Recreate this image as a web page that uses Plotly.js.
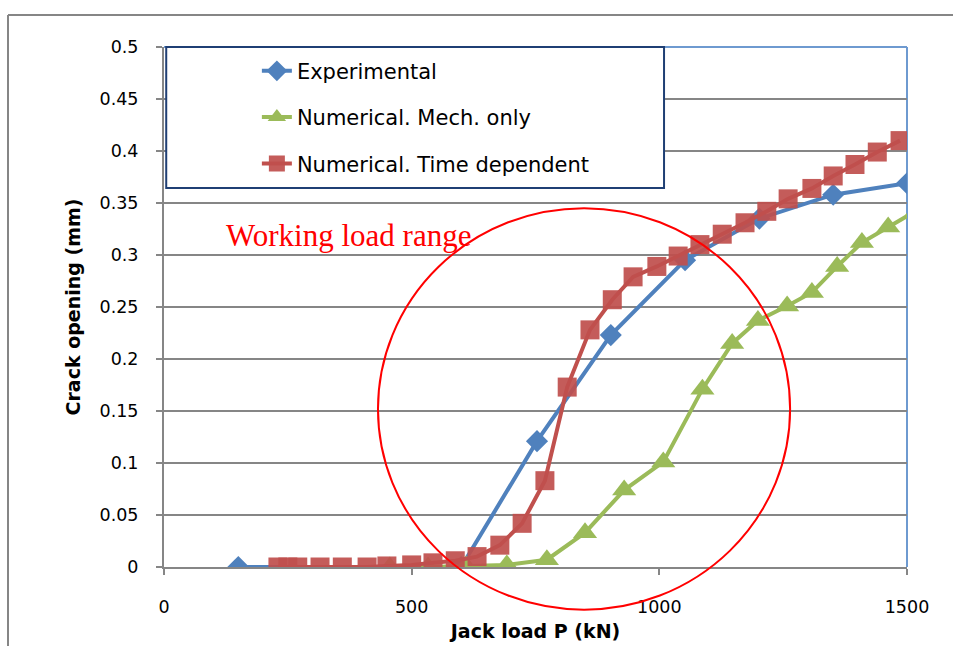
<!DOCTYPE html>
<html>
<head>
<meta charset="utf-8">
<script src="https://cdn.plot.ly/plotly-3.0.1.min.js"></script>
<style>
  html, body { margin: 0; padding: 0; background: #ffffff; }
  #chart { width: 953px; height: 646px; }
</style>
</head>
<body>
<div id="chart"></div>
<script>
// Crack opening versus jack load
const seriesNames = ['Experimental', 'Numerical. Mech. only', 'Numerical. Time dependent'];

const expLoad = [150, 600, 753, 902, 1052, 1202, 1351, 1500];
const expCrack = [0, 0, 0.121, 0.223, 0.295, 0.335, 0.358, 0.369];

const mechLoad = [456, 533, 610, 692, 773, 850, 929, 1008, 1087, 1147, 1199, 1258, 1308, 1359, 1409, 1462, 1520];
const mechCrack = [0, 0, 0.001, 0.002, 0.007, 0.033, 0.074, 0.101, 0.171, 0.215, 0.237, 0.251, 0.264, 0.289, 0.312, 0.327, 0.343];

const timeLoad = [230, 250, 270, 315, 360, 410, 450, 500, 543, 588, 632, 678, 723, 769, 814, 860, 905, 947, 995, 1038, 1082, 1127, 1173, 1217, 1260, 1308, 1351, 1395, 1440, 1486];
const timeCrack = [0, 0, 0, 0, 0, 0, 0.001, 0.002, 0.004, 0.006, 0.01, 0.021, 0.042, 0.083, 0.173, 0.228, 0.257, 0.279, 0.289, 0.299, 0.31, 0.32, 0.331, 0.342, 0.354, 0.364, 0.376, 0.387, 0.399, 0.41];

const xTickVals = [0, 500, 1000, 1500];
const yTickVals = [0, 0.05, 0.1, 0.15, 0.2, 0.25, 0.3, 0.35, 0.4, 0.45, 0.5];

// Highlighted working-load zone (load, crack opening) and its half-extents
const zoneCenter = [848, 0.152];
const zoneRadius = [416, 0.193];
const zoneLabel = 'Working load range';
const zoneLabelPos = [372, 0.319];

const X_RANGE = [0, 1500];
const Y_RANGE = [0, 0.5];

const gray = '#868686';
const sansFont = '"DejaVu Sans", "Noto Sans", sans-serif';
const tickFont = { family: sansFont, size: 17.5, color: '#000000' };
const axisTitleFont = { family: sansFont, size: 19, color: '#000000' };

const traces = [
  {
    x: expLoad, y: expCrack, name: seriesNames[0], legendgroup: 'a',
    type: 'scatter', mode: 'lines+markers',
    line: { color: '#4F81BD', width: 4 },
    marker: { symbol: 'diamond', size: 17, color: '#4F81BD' }
  },
  {
    x: mechLoad, y: mechCrack, name: seriesNames[1], legendgroup: 'b',
    type: 'scatter', mode: 'lines+markers',
    line: { color: '#9BBB59', width: 4 },
    marker: { symbol: 'triangle-up', size: 21, color: '#9BBB59' }
  },
  {
    x: timeLoad, y: timeCrack, name: seriesNames[2], legendgroup: 'c',
    type: 'scatter', mode: 'lines+markers',
    line: { color: '#C0504D', width: 4 },
    marker: { symbol: 'square', size: 19, color: 'rgba(192,80,77,0.93)' }
  }
];

// convert data units to paper fractions so the ellipse may run past the axes
const px = v => (v - X_RANGE[0]) / (X_RANGE[1] - X_RANGE[0]);
const py = v => (v - Y_RANGE[0]) / (Y_RANGE[1] - Y_RANGE[0]);

const margin = { l: 164, r: 46, t: 47, b: 79 };
const plotW = 953 - margin.l - margin.r;
const plotH = 646 - margin.t - margin.b;
// outer frame position in paper fractions
const frameX = (8 - margin.l) / plotW;
const frameTop = 1 + (47 - 15) / plotH;
const frameBottom = -(79 + 5) / plotH;
const frameRight = 1 + (46 + 5) / plotW;

const layout = {
  width: 953,
  height: 646,
  margin: margin,
  paper_bgcolor: '#ffffff',
  plot_bgcolor: '#ffffff',
  showlegend: true,
  legend: {
    x: 0.125, y: 0.993, xanchor: 'left', yanchor: 'top',
    bgcolor: 'rgba(0,0,0,0)', borderwidth: 0,
    traceorder: 'grouped', tracegroupgap: 16,
    font: { family: sansFont, size: 21, color: '#000000' }
  },
  xaxis: {
    range: X_RANGE,
    tickvals: xTickVals,
    ticks: 'outside', ticklen: 6, tickcolor: gray, tickwidth: 2,
    ticklabelstandoff: 17,
    showgrid: false, zeroline: false,
    showline: true, linecolor: gray, linewidth: 2,
    tickfont: tickFont,
    title: { text: '<b>Jack load P (kN)</b>', font: axisTitleFont, standoff: 9 }
  },
  yaxis: {
    range: Y_RANGE,
    tickvals: yTickVals,
    ticks: 'outside', ticklen: 6, tickcolor: gray, tickwidth: 2,
    ticklabelstandoff: 14,
    showgrid: true, gridcolor: gray, gridwidth: 2,
    zeroline: false,
    showline: true, linecolor: gray, linewidth: 2,
    tickfont: tickFont,
    title: { text: '<b>Crack opening (mm)</b>', font: axisTitleFont, standoff: 14 }
  },
  shapes: [
    // outer chart frame
    { type: 'line', xref: 'paper', yref: 'paper', x0: frameX, x1: frameRight, y0: frameTop, y1: frameTop, line: { color: gray, width: 2 } },
    { type: 'line', xref: 'paper', yref: 'paper', x0: frameX, x1: frameX, y0: frameTop, y1: frameBottom, line: { color: gray, width: 2 } },
    // plot area border (top and right)
    { type: 'line', xref: 'paper', yref: 'paper', x0: 0, x1: 1, y0: 1, y1: 1, line: { color: '#6E9AD0', width: 2 }, layer: 'above' },
    { type: 'line', xref: 'paper', yref: 'paper', x0: 1, x1: 1, y0: 0, y1: 1, line: { color: '#6E9AD0', width: 2 }, layer: 'below' },
    // legend box
    { type: 'rect', xref: 'paper', yref: 'paper', x0: 0.003, x1: 0.673, y0: py(0.5), y1: py(0.3645), fillcolor: '#ffffff', line: { color: '#1F3F74', width: 2 }, layer: 'above' },
    // working load zone
    {
      type: 'circle', xref: 'paper', yref: 'paper',
      x0: px(zoneCenter[0] - zoneRadius[0]), x1: px(zoneCenter[0] + zoneRadius[0]),
      y0: py(zoneCenter[1] - zoneRadius[1]), y1: py(zoneCenter[1] + zoneRadius[1]),
      line: { color: '#FF0000', width: 2 }, layer: 'above'
    }
  ],
  annotations: [
    {
      x: zoneLabelPos[0], y: zoneLabelPos[1], xref: 'x', yref: 'y',
      text: zoneLabel, showarrow: false,
      font: { family: '"Liberation Serif", "DejaVu Serif", serif', size: 31, color: '#FF0000' }
    }
  ]
};

Plotly.newPlot('chart', traces, layout, { displayModeBar: false, staticPlot: true });
</script>
</body>
</html>
